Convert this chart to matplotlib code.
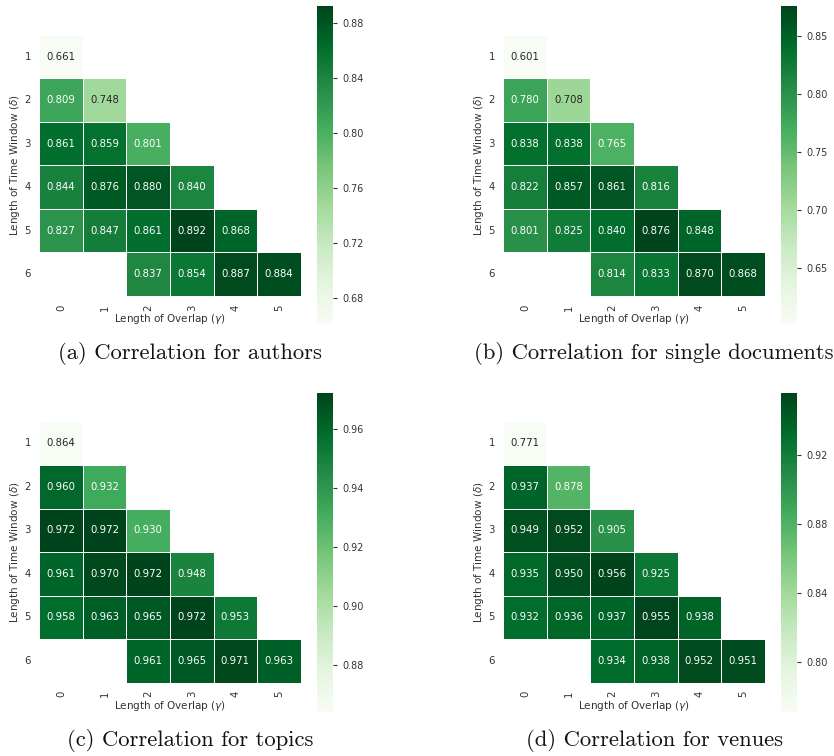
import numpy as np
import matplotlib
matplotlib.use('Agg')
import matplotlib.pyplot as plt
from matplotlib.ticker import MultipleLocator
import seaborn as sns

nan = np.nan
overlap = [0, 1, 2, 3, 4, 5]        # length of overlap (gamma)
window = [1, 2, 3, 4, 5, 6]         # length of time window (delta)

authors = [
    [0.661, nan, nan, nan, nan, nan],
    [0.809, 0.748, nan, nan, nan, nan],
    [0.861, 0.859, 0.801, nan, nan, nan],
    [0.844, 0.876, 0.880, 0.840, nan, nan],
    [0.827, 0.847, 0.861, 0.892, 0.868, nan],
    [nan, nan, 0.837, 0.854, 0.887, 0.884],
]
single_docs = [
    [0.601, nan, nan, nan, nan, nan],
    [0.780, 0.708, nan, nan, nan, nan],
    [0.838, 0.838, 0.765, nan, nan, nan],
    [0.822, 0.857, 0.861, 0.816, nan, nan],
    [0.801, 0.825, 0.840, 0.876, 0.848, nan],
    [nan, nan, 0.814, 0.833, 0.870, 0.868],
]
topics = [
    [0.864, nan, nan, nan, nan, nan],
    [0.960, 0.932, nan, nan, nan, nan],
    [0.972, 0.972, 0.930, nan, nan, nan],
    [0.961, 0.970, 0.972, 0.948, nan, nan],
    [0.958, 0.963, 0.965, 0.972, 0.953, nan],
    [nan, nan, 0.961, 0.965, 0.971, 0.963],
]
venues = [
    [0.771, nan, nan, nan, nan, nan],
    [0.937, 0.878, nan, nan, nan, nan],
    [0.949, 0.952, 0.905, nan, nan, nan],
    [0.935, 0.950, 0.956, 0.925, nan, nan],
    [0.932, 0.936, 0.937, 0.955, 0.938, nan],
    [nan, nan, 0.934, 0.938, 0.952, 0.951],
]
captions = ['(a) Correlation for authors', '(b) Correlation for single documents',
            '(c) Correlation for topics', '(d) Correlation for venues']
cbar_steps = [0.04, 0.05, 0.02, 0.04]

W, H = 834, 756
fig = plt.figure(figsize=(W / 100, H / 100), dpi=100)

def box(x0, y0, x1, y1):
    # pixel box -> figure fraction [left, bottom, width, height]
    return [x0 / W, 1 - y1 / H, (x1 - x0) / W, (y1 - y0) / H]

panels = [
    (authors, 39.3, 35.0, 317.3, 6.0, 190, 353),
    (single_docs, 503.3, 35.0, 781.3, 6.0, 654, 353),
    (topics, 39.3, 421.7, 317.3, 393.3, 190, 740),
    (venues, 503.3, 421.7, 781.3, 393.3, 654, 740),
]

for i, (data, hx, hy, cx, cy, tx, ty) in enumerate(panels):
    arr = np.array(data)
    ax = fig.add_axes(box(hx, hy, hx + 261.4, hy + 260.8))
    cax = fig.add_axes(box(cx, cy, cx + 16, cy + 318.4))
    sns.heatmap(arr, ax=ax, cbar_ax=cax, cmap='Greens', annot=True, fmt='.3f',
                mask=np.isnan(arr), linewidths=0.5, linecolor='white',
                xticklabels=overlap, yticklabels=window,
                annot_kws={'fontsize': 7.3})
    ax.tick_params(length=0, labelsize=7.3, labelcolor='#333333', pad=6)
    ax.set_xticklabels(overlap, rotation=90)
    ax.set_yticklabels(window, rotation=0)
    ax.set_xlabel(r'Length of Overlap ($\gamma$)', fontsize=7.5, color='#333333', labelpad=1)
    ax.set_ylabel(r'Length of Time Window ($\delta$)', fontsize=7.5, color='#333333', labelpad=1.5)
    cax.yaxis.set_major_locator(MultipleLocator(cbar_steps[i]))
    cax.tick_params(labelsize=6.9, labelcolor='#333333', length=3, width=0.8, color='#333333')
    for s in cax.spines.values():
        s.set_visible(False)
    fig.text(tx / W, 1 - ty / H, captions[i], family='cmr10', fontsize=16.3,
             ha='center', va='center', color='#111111')

fig.savefig('out.png', dpi=100)
